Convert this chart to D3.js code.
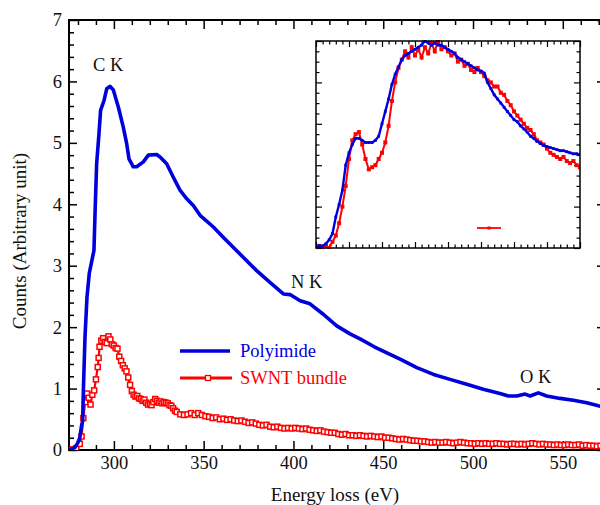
<!DOCTYPE html>
<html>
<head>
<meta charset="utf-8">
<script src="https://cdn.jsdelivr.net/npm/d3@7"></script>
<style>
  html, body { margin: 0; padding: 0; background: #fff; }
  svg { display: block; }
  text { font-family: "Liberation Serif", "Times New Roman", serif; }
</style>
</head>
<body>
<svg id="chart" width="600" height="505"></svg>
<script>
// ---------------- DATA ----------------
const xMajorTicks = [300, 350, 400, 450, 500, 550];
const yMajorTicks = [0, 1, 2, 3, 4, 5, 6, 7];
const seriesNames = ["Polyimide", "SWNT bundle"];
const edgeLabels = ["C K", "N K", "O K"];
const xTitle = "Energy loss (eV)";
const yTitle = "Counts (Arbitrary unit)";

// Polyimide spectrum [energy (eV), counts]
const polyimide = [
  [275,0],[278.3,0.04],[280,0.12],[281,0.2],[282,0.4],[282.6,0.47],[283,0.96],[283.9,1.83],
  [285,2.48],[286.3,2.88],[287.5,3.05],[288.9,3.25],[289.6,3.95],[290.4,4.66],[291.7,5.15],
  [292.6,5.53],[294.5,5.69],[296,5.88],[297.8,5.92],[299.7,5.86],[302.5,5.58],[305.2,5.26],
  [307.1,4.99],[308.4,4.74],[310.8,4.61],[312.7,4.61],[316.4,4.69],[319.2,4.80],[323.8,4.81],
  [325.7,4.77],[329.4,4.66],[333.1,4.44],[336.8,4.23],[340.6,4.09],[344.2,3.98],[348,3.82],
  [355.4,3.63],[361,3.46],[370.2,3.19],[379.5,2.92],[386.9,2.73],[394.4,2.54],[398.1,2.53],
  [403.7,2.43],[409.2,2.38],[416.6,2.21],[424.1,2.02],[431.5,1.89],[437.1,1.81],[445,1.68],
  [452,1.58],[459.4,1.48],[468.7,1.34],[478,1.23],[487.2,1.15],[496.5,1.07],[505.7,0.99],
  [515,0.92],[519.7,0.88],[524.4,0.88],[529,0.91],[531.8,0.88],[536.4,0.93],[541,0.88],
  [548.5,0.84],[555.9,0.81],[563.3,0.77],[569.8,0.72],[573.5,0.70]
];

// SWNT bundle spectrum [energy (eV), counts]
const swnt = [
  [275,0.00],[277,0.01],[279,0.03],[281,0.10],[282,0.22],[283,0.52],[284,0.78],[285,0.92],
  [286,0.85],[287,0.74],[288,0.90],[289,0.97],[290,1.15],[291,1.35],[291.5,1.50],[292,1.68],
  [293,1.78],[294,1.82],[295,1.76],[296,1.74],[297,1.85],[298,1.80],[299,1.72],[300,1.70],
  [301,1.66],[302,1.65],[303,1.52],[304,1.45],[305,1.38],[306,1.33],[307,1.28],[308,1.18],
  [309,1.06],[310,0.96],[311,0.90],[312,0.87],[313,0.88],[314,0.84],[315,0.83],[316,0.80],
  [317,0.82],[318,0.77],[319,0.74],[320,0.75],[321,0.73],[322,0.78],[323,0.83],[324,0.80],
  [325,0.77],[326,0.79],[327,0.76],[328,0.78],[329,0.77],[330,0.76],[331,0.73],[332,0.72],
  [333,0.68],[334,0.64],[335,0.62],[337,0.58],[339,0.57],[341,0.58],[343,0.60],[345,0.57],
  [347,0.60],[349,0.57],[351,0.55],[353,0.54],[355,0.52],[357,0.53],[359,0.50],[361,0.51],
  [363,0.49],[365,0.50],[367,0.48],[369,0.47],[371,0.48],[373,0.46],[375,0.44],[377,0.45],
  [379,0.43],[381,0.41],[383,0.40],[385,0.41],[387,0.38],[389,0.37],[391,0.38],[393,0.36],
  [395,0.35],[397,0.36],[399,0.35],[401,0.36],[403,0.35],[405,0.34],[407,0.35],[409,0.33],
  [411,0.32],[413,0.31],[415,0.32],[417,0.30],[419,0.29],[421,0.28],[423,0.28],[425,0.26],
  [427,0.25],[429,0.26],[431,0.24],[433,0.24],[435,0.23],[437,0.24],[439,0.23],[441,0.22],
  [443,0.23],[445,0.22],[447,0.21],[449,0.22],[451,0.20],[453,0.20],[455,0.19],[457,0.18],
  [459,0.17],[461,0.18],[463,0.17],[465,0.16],[467,0.15],[469,0.15],[471,0.14],[473,0.14],
  [475,0.13],[477,0.12],[479,0.13],[481,0.12],[483,0.12],[485,0.13],[487,0.12],[489,0.11],
  [491,0.12],[493,0.13],[495,0.12],[497,0.11],[499,0.11],[501,0.10],[503,0.11],[505,0.10],
  [507,0.11],[509,0.10],[511,0.10],[513,0.11],[515,0.10],[517,0.10],[519,0.09],[521,0.10],
  [523,0.10],[525,0.09],[527,0.10],[529,0.09],[531,0.10],[533,0.11],[535,0.10],[537,0.09],
  [539,0.10],[541,0.09],[543,0.09],[545,0.08],[547,0.09],[549,0.08],[551,0.08],[553,0.09],
  [555,0.08],[557,0.08],[559,0.09],[561,0.07],[563,0.08],[565,0.07],[567,0.07],[569,0.06],
  [571,0.07],[573,0.07]
];

// Inset: normalised near-edge structure [energy (eV), intensity]
const insetPolyimide = [
  [280,0.01],[280.5,0.01],[281,0.01],[281.5,0.02],[282,0.04],[282.5,0.07],[283,0.15],[283.5,0.21],
  [284,0.28],[284.5,0.40],[285,0.46],[285.5,0.50],[286,0.53],[286.5,0.53],[287,0.52],[287.5,0.51],
  [288,0.51],[288.5,0.51],[289,0.52],[289.5,0.54],[290,0.60],[290.5,0.66],[291,0.72],[291.5,0.79],
  [292,0.84],[292.5,0.875],[293,0.91],[293.5,0.93],[294,0.94],[294.5,0.95],[295,0.96],[295.5,0.97],
  [296,0.98],[296.5,1.00],[297,0.99],[297.5,0.98],[298,0.99],[298.5,0.98],[299,0.98],[299.5,0.97],
  [300,0.96],[300.5,0.95],[301,0.94],[301.5,0.92],[302,0.91],[302.5,0.90],[303,0.89],[303.5,0.88],
  [304,0.87],[304.5,0.86],[305,0.855],[305.5,0.845],[306,0.80],[306.5,0.77],[307,0.74],[307.5,0.72],
  [308,0.70],[308.5,0.68],[309,0.66],[309.5,0.64],[310,0.62],[310.5,0.61],[311,0.59],[311.5,0.575],
  [312,0.56],[312.5,0.54],[313,0.53],[313.5,0.515],[314,0.505],[314.5,0.495],[315,0.49],[315.5,0.485],
  [316,0.48],[316.5,0.475],[317,0.47],[317.5,0.47],[318,0.465],[318.5,0.46],[319,0.455],[319.5,0.455],
  [320,0.45]
];
const insetSwnt = [
  [280,0.00],[280.5,0.01],[281,0.00],[281.5,0.01],[282,0.00],[282.5,0.03],[283,0.06],[283.5,0.12],
  [284,0.20],[284.5,0.30],[285,0.43],[285.5,0.52],[286,0.55],[286.5,0.56],[287,0.50],[287.5,0.43],
  [288,0.38],[288.5,0.39],[289,0.40],[289.5,0.43],[290,0.46],[290.5,0.51],[291,0.59],[291.5,0.71],
  [292,0.80],[292.5,0.87],[293,0.91],[293.5,0.95],[294,0.92],[294.5,0.97],[295,0.93],[295.5,0.96],
  [296,0.92],[296.5,0.97],[297,0.94],[297.5,0.99],[298,0.95],[298.5,1.00],[299,0.96],[299.5,0.97],
  [300,0.95],[300.5,0.93],[301,0.94],[301.5,0.90],[302,0.91],[302.5,0.88],[303,0.89],[303.5,0.86],
  [304,0.85],[304.5,0.87],[305,0.85],[305.5,0.83],[306,0.81],[306.5,0.80],[307,0.78],[307.5,0.78],
  [308,0.75],[308.5,0.74],[309,0.71],[309.5,0.69],[310,0.66],[310.5,0.64],[311,0.62],[311.5,0.60],
  [312,0.58],[312.5,0.57],[313,0.55],[313.5,0.52],[314,0.51],[314.5,0.50],[315,0.48],[315.5,0.46],
  [316,0.45],[316.5,0.44],[317,0.43],[317.5,0.44],[318,0.42],[318.5,0.41],[319,0.42],[319.5,0.40],
  [320,0.39]
];

// ---------------- DRAWING ----------------
const BLUE = "#0000dd", RED = "#ff0000";
const FONT = 18.5;
const svg = d3.select("#chart");

const P = {left: 69, right: 605, top: 20, bottom: 450};
const x = d3.scaleLinear().domain([275, 573.5]).range([P.left, P.right]);
const y = d3.scaleLinear().domain([0, 7]).range([P.bottom, P.top]);

svg.append("defs").append("clipPath").attr("id", "clipMain")
  .append("rect").attr("x", P.left).attr("y", P.top)
  .attr("width", P.right - P.left).attr("height", P.bottom - P.top);

const xMinor = d3.range(280, 574, 10).filter(v => v % 50 !== 0);
const yMinor = d3.range(0, 7.01, 0.2).map(v => +v.toFixed(1)).filter(v => Math.abs(v - Math.round(v)) > 1e-6);

function styleAxis(g) {
  g.select(".domain").remove();
  g.selectAll("line").attr("stroke", "#000").attr("stroke-width", 1.5);
  g.selectAll("text").attr("font-size", FONT).attr("fill", "#111")
    .attr("font-family", "'Liberation Serif', 'Times New Roman', serif");
}

// bottom
svg.append("g").attr("transform", `translate(0,${P.bottom})`)
  .call(d3.axisBottom(x).tickValues(xMajorTicks).tickSize(-9).tickPadding(6).tickFormat(d3.format("d")))
  .call(styleAxis);
svg.append("g").attr("transform", `translate(0,${P.bottom})`)
  .call(d3.axisBottom(x).tickValues(xMinor).tickSize(-5).tickFormat(""))
  .call(styleAxis);
// top
svg.append("g").attr("transform", `translate(0,${P.top})`)
  .call(d3.axisTop(x).tickValues(xMajorTicks).tickSize(-9).tickFormat(""))
  .call(styleAxis);
svg.append("g").attr("transform", `translate(0,${P.top})`)
  .call(d3.axisTop(x).tickValues(xMinor).tickSize(-5).tickFormat(""))
  .call(styleAxis);
// left
svg.append("g").attr("transform", `translate(${P.left},0)`)
  .call(d3.axisLeft(y).tickValues(yMajorTicks).tickSize(-8).tickPadding(7).tickFormat(d3.format("d")))
  .call(styleAxis);
svg.append("g").attr("transform", `translate(${P.left},0)`)
  .call(d3.axisLeft(y).tickValues(yMinor).tickSize(-5).tickFormat(""))
  .call(styleAxis);
// right
svg.append("g").attr("transform", `translate(${P.right},0)`)
  .call(d3.axisRight(y).tickValues(yMajorTicks).tickSize(-8).tickFormat(""))
  .call(styleAxis);
svg.append("g").attr("transform", `translate(${P.right},0)`)
  .call(d3.axisRight(y).tickValues(yMinor).tickSize(-5).tickFormat(""))
  .call(styleAxis);

// frame
svg.append("rect").attr("x", P.left).attr("y", P.top)
  .attr("width", P.right - P.left).attr("height", P.bottom - P.top)
  .attr("fill", "none").attr("stroke", "#000").attr("stroke-width", 2);

// titles
svg.append("text").attr("x", 335).attr("y", 501).attr("text-anchor", "middle")
  .attr("font-size", 19).attr("fill", "#111").text(xTitle);
svg.append("text").attr("transform", "translate(26,241) rotate(-90)").attr("text-anchor", "middle")
  .attr("font-size", 19).attr("fill", "#111").text(yTitle);

// main series
const main = svg.append("g").attr("clip-path", "url(#clipMain)");
const line = d3.line().x(d => x(d[0])).y(d => y(d[1]));

main.append("path").datum(swnt).attr("d", line)
  .attr("fill", "none").attr("stroke", RED).attr("stroke-width", 2.2);
main.selectAll("rect.sw").data(swnt).join("rect").attr("class", "sw")
  .attr("x", d => x(d[0]) - 2.5).attr("y", d => y(d[1]) - 2.5)
  .attr("width", 5).attr("height", 5)
  .attr("fill", "#fff").attr("stroke", RED).attr("stroke-width", 1.5);

main.append("path").datum(polyimide).attr("d", line)
  .attr("fill", "none").attr("stroke", BLUE).attr("stroke-width", 3.6)
  .attr("stroke-linejoin", "round");

// edge labels
const edgeAt = [[93, 71], [291, 288], [520, 383]];
edgeLabels.forEach((t, i) => {
  svg.append("text").attr("x", edgeAt[i][0]).attr("y", edgeAt[i][1])
    .attr("font-size", FONT).attr("fill", "#111").text(t);
});

// legend
const lg = svg.append("g");
lg.append("line").attr("x1", 180).attr("x2", 230).attr("y1", 351).attr("y2", 351)
  .attr("stroke", BLUE).attr("stroke-width", 3.6);
lg.append("text").attr("x", 240).attr("y", 357).attr("font-size", FONT).attr("fill", BLUE).text(seriesNames[0]);
lg.append("line").attr("x1", 180).attr("x2", 232).attr("y1", 378).attr("y2", 378)
  .attr("stroke", RED).attr("stroke-width", 3);
lg.append("rect").attr("x", 205.5).attr("y", 375.5).attr("width", 5).attr("height", 5)
  .attr("fill", "#fff").attr("stroke", RED).attr("stroke-width", 1.3);
lg.append("text").attr("x", 240).attr("y", 384).attr("font-size", FONT).attr("fill", RED).text(seriesNames[1]);

// ---------------- INSET ----------------
const I = {left: 316, right: 580, top: 41, bottom: 248};
const xi = d3.scaleLinear().domain([280, 320]).range([I.left, I.right]);
const yi = d3.scaleLinear().domain([0, 1]).range([I.bottom, I.top]);
svg.select("defs").append("clipPath").attr("id", "clipInset")
  .append("rect").attr("x", I.left).attr("y", I.top - 1)
  .attr("width", I.right - I.left).attr("height", I.bottom - I.top + 2);

svg.append("rect").attr("x", I.left).attr("y", I.top)
  .attr("width", I.right - I.left).attr("height", I.bottom - I.top).attr("fill", "#fff");

const xiMajor = d3.range(280, 320.1, 5);
const xiMinor = d3.range(280, 320.1, 1).filter(v => v % 5 !== 0);
const yiMajor = d3.range(0, 1.01, 0.2);
const yiMinor = d3.range(0, 1.001, 0.05).filter(v => Math.abs(v / 0.2 - Math.round(v / 0.2)) > 1e-6);

function styleInset(g) {
  g.select(".domain").remove();
  g.selectAll("line").attr("stroke", "#000").attr("stroke-width", 1.2);
}
[[d3.axisBottom, I.bottom, xi, true], [d3.axisTop, I.top, xi, true],
 [d3.axisLeft, I.left, yi, false], [d3.axisRight, I.right, yi, false]].forEach(([ax, pos, sc, horiz]) => {
  const tr = horiz ? `translate(0,${pos})` : `translate(${pos},0)`;
  svg.append("g").attr("transform", tr)
    .call(ax(sc).tickValues(horiz ? xiMajor : yiMajor).tickSize(-6).tickFormat(""))
    .call(styleInset);
  svg.append("g").attr("transform", tr)
    .call(ax(sc).tickValues(horiz ? xiMinor : yiMinor).tickSize(-3.5).tickFormat(""))
    .call(styleInset);
});

const inset = svg.append("g").attr("clip-path", "url(#clipInset)");
const iline = d3.line().x(d => xi(d[0])).y(d => yi(d[1]));
inset.append("path").datum(insetSwnt).attr("d", iline)
  .attr("fill", "none").attr("stroke", RED).attr("stroke-width", 2);
inset.selectAll("rect.is").data(insetSwnt).join("rect").attr("class", "is")
  .attr("x", d => xi(d[0]) - 2).attr("y", d => yi(d[1]) - 2)
  .attr("width", 4).attr("height", 4).attr("fill", RED);
inset.append("path").datum(insetPolyimide).attr("d", iline)
  .attr("fill", "none").attr("stroke", BLUE).attr("stroke-width", 2.4);
inset.selectAll("rect.ip").data(insetPolyimide).join("rect").attr("class", "ip")
  .attr("x", d => xi(d[0]) - 1.4).attr("y", d => yi(d[1]) - 1.4)
  .attr("width", 2.8).attr("height", 2.8).attr("fill", BLUE);

// small red legend stub inside inset
svg.append("line").attr("x1", 477).attr("x2", 501).attr("y1", 228).attr("y2", 228)
  .attr("stroke", RED).attr("stroke-width", 1.8);
svg.append("rect").attr("x", 487.5).attr("y", 226.5).attr("width", 3).attr("height", 3).attr("fill", RED);

svg.append("rect").attr("x", I.left).attr("y", I.top)
  .attr("width", I.right - I.left).attr("height", I.bottom - I.top)
  .attr("fill", "none").attr("stroke", "#000").attr("stroke-width", 1.5);
</script>
</body>
</html>
